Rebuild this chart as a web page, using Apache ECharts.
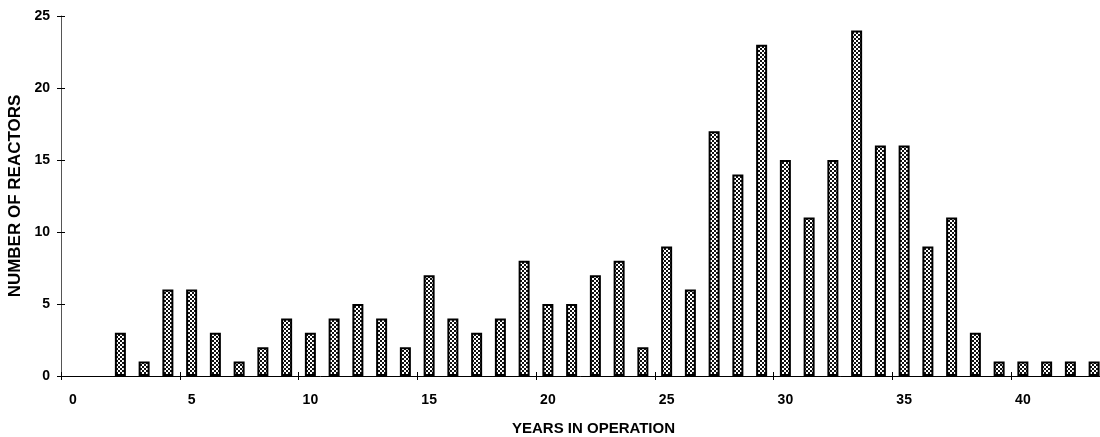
<!DOCTYPE html>
<html>
<head>
<meta charset="utf-8">
<script src="https://cdn.jsdelivr.net/npm/echarts@6/dist/echarts.min.js"></script>
<style>
html,body{margin:0;padding:0;background:#fff;}
#chart{width:1100px;height:437px;}
</style>
</head>
<body>
<div id="chart"></div>
<script>
const years = ['0','1','2','3','4','5','6','7','8','9','10','11','12','13','14','15','16','17','18','19','20','21','22','23','24','25','26','27','28','29','30','31','32','33','34','35','36','37','38','39','40','41','42','43'];
const reactors = [0,0,3,1,6,6,3,1,2,4,3,4,5,4,2,7,4,3,4,8,5,5,7,8,2,9,6,17,14,23,15,11,15,24,16,16,9,11,3,1,1,1,1,1];
const yTicks = {min:0, max:25, interval:5};
const xTitle = 'YEARS IN OPERATION';
const yTitle = 'NUMBER OF REACTORS';

// checkered fill pattern
const pc = document.createElement('canvas');
pc.width = 4; pc.height = 4;
const ctx = pc.getContext('2d');
ctx.fillStyle = '#ffffff'; ctx.fillRect(0,0,4,4);
ctx.fillStyle = '#111111';
ctx.fillRect(0,0,2,2); ctx.fillRect(2,2,2,2);

const font = 'Liberation Sans';
const chart = echarts.init(document.getElementById('chart'));
chart.setOption({
  animation:false,
  backgroundColor:'#ffffff',
  grid:{left:61, top:16, width:1045, height:360, containLabel:false, outerBoundsMode:'none'},
  xAxis:[{
    type:'category', data:years, position:'bottom', boundaryGap:true,
    axisLine:{lineStyle:{color:'#000', width:1}},
    axisTick:{show:true, interval:4, alignWithLabel:false, length:4, lineStyle:{color:'#000'}},
    axisLabel:{interval:4, margin:17, color:'#000', fontSize:14, fontWeight:'bold', fontFamily:font},
    name:xTitle, nameLocation:'middle', nameGap:45,
    nameTextStyle:{color:'#000', fontSize:15, fontWeight:'bold', fontFamily:font, padding:[0,0,0,20]}
  },{
    type:'category', data:years, position:'bottom', offset:0, boundaryGap:true,
    axisLine:{show:false},
    axisTick:{show:true, inside:true, interval:4, alignWithLabel:false, length:4, lineStyle:{color:'#000'}},
    axisLabel:{show:false}
  }],
  yAxis:[{
    type:'value', min:yTicks.min, max:yTicks.max, interval:yTicks.interval,
    axisLine:{show:true, lineStyle:{color:'#555', width:1}},
    axisTick:{show:true, length:4, lineStyle:{color:'#000'}},
    splitLine:{show:false},
    axisLabel:{margin:11, color:'#000', fontSize:14, fontWeight:'bold', fontFamily:font},
    name:yTitle, nameLocation:'middle', nameGap:34, nameRotate:90,
    nameTextStyle:{color:'#000', fontSize:17, fontWeight:'bold', fontFamily:font}
  },{
    type:'value', min:yTicks.min, max:yTicks.max, interval:yTicks.interval, position:'left', offset:0,
    axisLine:{show:false},
    axisTick:{show:true, inside:true, length:4, lineStyle:{color:'#000'}},
    splitLine:{show:false},
    axisLabel:{show:false}
  }],
  series:[{
    type:'bar', data:reactors.map(v => v === 0 ? null : v), xAxisIndex:0, yAxisIndex:0,
    barWidth:11,
    itemStyle:{color:{image:pc, repeat:'repeat'}, borderColor:'#000', borderWidth:2}
  }]
});
</script>
</body>
</html>
